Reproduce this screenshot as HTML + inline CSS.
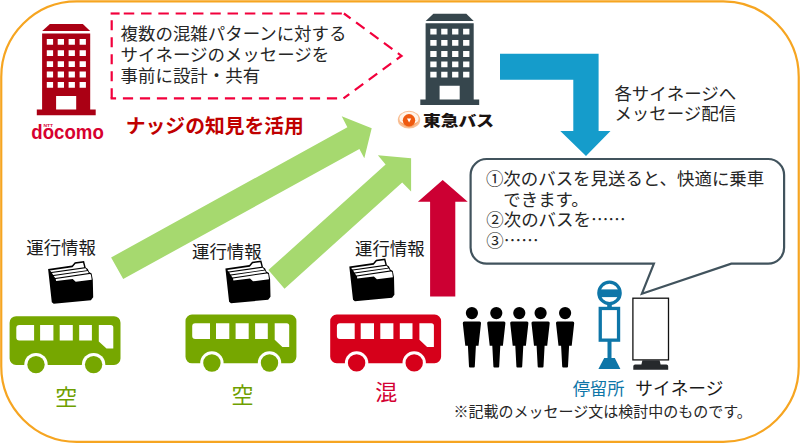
<!DOCTYPE html>
<html lang="ja">
<head>
<meta charset="utf-8">
<title>混雑情報サイネージ</title>
<style>
html,body{margin:0;padding:0;background:#fff;}
body{width:800px;height:443px;overflow:hidden;}
svg{display:block;}
text{font-family:"Liberation Sans","Noto Sans CJK JP",sans-serif;}
.t{fill:#262626;font-size:17.45px;}
.e{font-family:"Noto Sans CJK JP",sans-serif;}
</style>
</head>
<body>
<svg width="800" height="443" viewBox="0 0 800 443">
<defs>
  <g id="bldg">
    <polygon points="49.9,23.900 82.8,23.900 90.2,31.100 42.2,31.100"/>
    <path fill-rule="evenodd" d="M42.1,33.400H90.2V109.600H95.7V115.200H36.8V109.600H42.1Z M46.8,39h6.3v5.8h-6.3Z M57.7,39h6.3v5.8h-6.3Z M68.6,39h6.3v5.8h-6.3Z M79.6,39h6.3v5.8h-6.3Z M46.8,50.2h6.3v5.8h-6.3Z M57.7,50.2h6.3v5.8h-6.3Z M68.6,50.2h6.3v5.8h-6.3Z M79.6,50.2h6.3v5.8h-6.3Z M46.8,61.3h6.3v5.8h-6.3Z M57.7,61.3h6.3v5.8h-6.3Z M68.6,61.3h6.3v5.8h-6.3Z M79.6,61.3h6.3v5.8h-6.3Z M46.8,71.6h6.3v5.8h-6.3Z M57.7,71.6h6.3v5.8h-6.3Z M68.6,71.6h6.3v5.8h-6.3Z M79.6,71.6h6.3v5.8h-6.3Z M46.8,82h6.3v5.8h-6.3Z M57.7,82h6.3v5.8h-6.3Z M68.6,82h6.3v5.8h-6.3Z M79.6,82h6.3v5.8h-6.3Z M56.1,96h20.100v13.600h-20.100Z"/>
  </g>
  <g id="bus">
    <path fill-rule="evenodd" d="M16.100,316.200H114a6.500,6.500 0 0 1 6.500,6.500V358.400a6.500,6.500 0 0 1 -6.500,6.500H16.100a6.500,6.500 0 0 1 -6.500,-6.500V322.700a6.500,6.500 0 0 1 6.500,-6.500Z
      M19.300,324.900H34.100V340.600H19.300a3,3 0 0 1 -3,-3V327.900a3,3 0 0 1 3,-3Z
      M40.100,324.900h13.300v15.700h-13.300Z
      M59.700,324.900h13.100v15.700h-13.100Z
      M79.200,324.900h12.700v15.700h-12.700Z
      M98.800,324.900H110.800a2.500,2.500 0 0 1 2.500,2.500V348.600H106.500L98.800,341.400Z"/>
    <circle cx="36" cy="364.600" r="11.700" fill="#fff"/>
    <circle cx="93.600" cy="364.600" r="11.700" fill="#fff"/>
    <circle cx="36" cy="364.600" r="8.700"/>
    <circle cx="93.600" cy="364.600" r="8.700"/>
  </g>
  <g id="folder">
    <polygon fill="#000" points="48.1,268.9 72.0,265.6 74.8,262.2 84.1,261.0 85.7,267.4 87.8,268.9 89.1,272.1 91.6,273.6 92.8,279.8 93.2,297.2 90.9,300.3 53.7,303.7 51.8,302.2"/>
    <polygon fill="#fff" points="49.9,270.4 72.5,267.2 75.5,263.7 83.0,262.7 84.2,267.2 51.4,272.1"/>
    <polygon fill="#fff" points="51.9,273.1 85.5,268.3 87.0,270.2 53.2,275.0"/>
    <polygon fill="#fff" points="53.7,275.9 87.7,271.0 88.7,273.1 55.2,277.9"/>
    <polygon fill="#fff" points="55.7,278.9 89.7,274.0 90.9,274.6 91.7,279.8 75.7,281.8 72.7,278.9 56.1,281.1"/>
  </g>
  <g id="person">
    <circle cx="0" cy="312.700" r="6.100"/>
    <path d="M-7.600,321.200H7.600a1.500,1.500 0 0 1 1.500,1.700L6.600,345.400H4L2.900,366a1,1 0 0 1 -1,1H-1.900a1,1 0 0 1 -1,-1L-4,345.400H-6.600L-9.100,322.900a1.500,1.500 0 0 1 1.500,-1.700Z"/>
  </g>
</defs>

<!-- outer frame -->
<rect x="1.250" y="1.400" width="797.500" height="440.400" rx="75.500" ry="75.500" fill="#fff" stroke="#F6A521" stroke-width="2.200"/>

<!-- green arrows -->
<g fill="#A6D96F">
  <polygon points="111.100,257.500 347.400,127.200 341.700,116.300 371.700,128.200 364.300,158.200 359.400,149 123.200,279"/>
  <polygon points="268.400,270.100 385.600,164.400 377.900,155.300 411.100,158.200 411.100,191.400 402.200,182.500 284.500,288.700"/>
</g>

<!-- docomo building -->
<use href="#bldg" fill="#AA0014"/>
<text x="31.300" y="139" font-size="21" font-weight="bold" fill="#D7002F" textLength="72.500" lengthAdjust="spacingAndGlyphs">docomo</text>
<text x="43.600" y="126.800" font-size="3.600" font-weight="bold" fill="#D7002F" textLength="9.500" lengthAdjust="spacingAndGlyphs">NTT</text>

<!-- dashed callout -->
<g fill="none" stroke="#F2003C" stroke-width="2.200">
  <line x1="110.600" y1="13.500" x2="119.600" y2="13.500"/>
  <line x1="123.750" y1="13.500" x2="343.900" y2="13.500" stroke-dasharray="10.500,6.800"/>
  <polyline points="343.900,13.500 401.500,55.900 343.500,98.300" stroke-dasharray="10.500,6.800" stroke-dashoffset="2.200"/>
  <line x1="343.500" y1="98.300" x2="110.600" y2="98.300" stroke-dasharray="10.200,6.800" stroke-dashoffset="10.600"/>
  <line x1="111.700" y1="98.300" x2="111.700" y2="13.500" stroke-dasharray="10,7"/>
</g>
<text class="t" x="120.600" y="39.800">複数の混雑パターンに対する</text>
<text class="t" x="120.600" y="60.900">サイネージのメッセージを</text>
<text class="t" x="120.600" y="82.100">事前に設計・共有</text>

<text x="125.800" y="133" font-size="19.800" font-weight="bold" fill="#C00000">ナッジの知見を活用</text>

<!-- tokyu bus building -->
<use href="#bldg" fill="#36464D" transform="translate(383.500,-10.200)"/>
<ellipse cx="409" cy="119.700" rx="11.200" ry="8.900" fill="#F9BE93"/>
<ellipse cx="409" cy="118.700" rx="9.600" ry="6.900" fill="#FFF4EA"/>
<path d="M399.500,121.500Q409,133 418.500,121.500Q409,128 399.500,121.500Z" fill="#F7A56B"/>
<circle cx="409" cy="120.300" r="6.200" fill="#EF5A0F"/>
<polygon points="407,118.500 411.200,118.500 409.100,122.400" fill="#fff"/>
<text x="423" y="126" font-size="14.800" font-weight="900" fill="#1a1311" textLength="71" lengthAdjust="spacingAndGlyphs">東急バス</text>

<!-- blue bent arrow -->
<polygon fill="#159CCB" points="500,53.700 598.600,53.700 598.600,131.100 610.500,131.100 586,156.100 560.300,131.100 573.300,131.100 573.300,79.700 500,79.700"/>
<text class="t" x="614.400" y="99.600">各サイネージへ</text>
<text class="t" x="614.400" y="120.400">メッセージ配信</text>

<!-- red up arrow -->
<polygon fill="#CC0033" points="442.700,180 467.700,201.700 455.300,201.700 455.300,296.500 430.100,296.500 430.100,201.700 417.900,201.700"/>

<!-- speech bubble -->
<path d="M486.6,159.0H768.1a16,16 0 0 1 16,16V247.7a16,16 0 0 1 -16,16H731.300L641.900,293.700L653.900,263.7H486.6a16,16 0 0 1 -16,-16V175.0a16,16 0 0 1 16,-16Z" fill="#fff" stroke="#41535D" stroke-width="2.200" stroke-linejoin="miter"/>
<text class="t" x="485.900" y="184.600">①次のバスを見送ると、快適に乗車</text>
<text class="t" x="503.300" y="205.700">できます。</text>
<text class="t" x="486.300" y="226.400">②次のバスを<tspan class="e">……</tspan></text>
<text class="t" x="486.300" y="247">③<tspan class="e">……</tspan></text>

<!-- folders + labels -->
<use href="#folder"/>
<use href="#folder" transform="translate(177.300,-0.500)"/>
<use href="#folder" transform="translate(301.200,-2.500)"/>
<text x="26.300" y="254.100" font-size="17.400" fill="#1a1a1a">運行情報</text>
<text x="192" y="257.500" font-size="17.400" fill="#1a1a1a">運行情報</text>
<text x="355" y="254.800" font-size="17.400" fill="#1a1a1a">運行情報</text>

<!-- buses -->
<use href="#bus" fill="#76A700"/>
<use href="#bus" fill="#76A700" transform="translate(175.900,-1.600)"/>
<use href="#bus" fill="#D6001A" transform="translate(320.600,-1.700)"/>
<text x="66.250" y="405.150" text-anchor="middle" font-size="22" fill="#6F9F00">空</text>
<text x="242.450" y="402.850" text-anchor="middle" font-size="22" fill="#6F9F00">空</text>
<text x="386.300" y="400.400" text-anchor="middle" font-size="22" fill="#D40032">混</text>

<!-- people -->
<g fill="#000">
  <use href="#person" transform="translate(471.900,0.400)"/>
  <use href="#person" transform="translate(496.300,0.400)"/>
  <use href="#person" transform="translate(519.300,0.400)"/>
  <use href="#person" transform="translate(540.600,0.400)"/>
  <use href="#person" transform="translate(565.100,0.400)"/>
</g>

<!-- bus stop -->
<g fill="#0E76A8">
  <circle cx="609.500" cy="292.900" r="10.700" fill="#fff" stroke="#0E76A8" stroke-width="3.200"/>
  <rect x="599" y="289.400" width="21" height="7.700"/>
  <rect x="607.200" y="304" width="4.600" height="4"/>
  <rect x="600.250" y="308.450" width="18.300" height="31.700" fill="#fff" stroke="#0E76A8" stroke-width="3.300"/>
  <rect x="607.500" y="341" width="4" height="17.500"/>
  <polygon points="604.200,357.900 614.800,357.900 620.400,368.900 598.400,368.900"/>
</g>

<!-- signage -->
<rect x="632.900" y="298.200" width="35.600" height="61.700" fill="#fff" stroke="#111" stroke-width="1.300"/>
<path d="M642.400,360.300H659.600L660.600,364.400H666.400a1.800,1.800 0 0 1 1.800,1.800V369.800H633.300V366.200a1.800,1.800 0 0 1 1.800,-1.800H641.400Z" fill="#26292c"/>

<text x="572.700" y="394.600" font-size="17.300" fill="#0E76A8">停留所</text>
<text x="635.300" y="394.700" font-size="17.700" fill="#1a1a1a">サイネージ</text>
<text x="453.600" y="417" font-size="15" fill="#262626">※記載のメッセージ文は検討中のものです。</text>
</svg>
</body>
</html>
